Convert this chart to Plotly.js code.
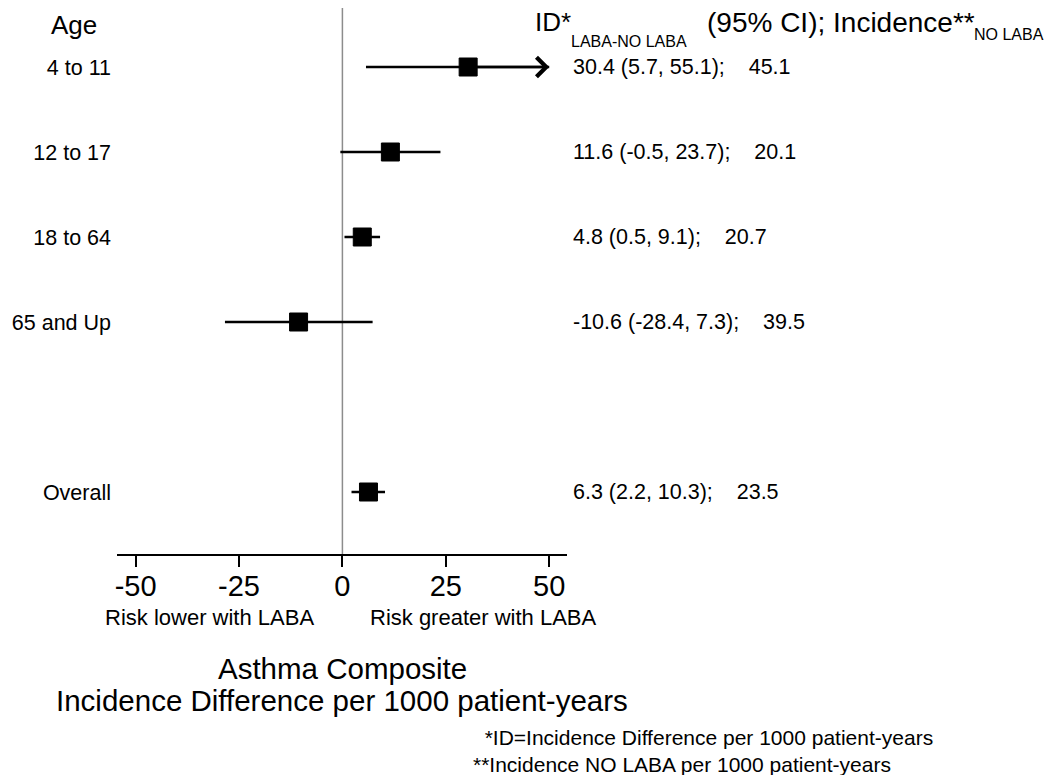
<!DOCTYPE html>
<html>
<head>
<meta charset="utf-8">
<script src="https://cdn.plot.ly/plotly-3.0.1.min.js"></script>
<style>
  html, body { margin: 0; padding: 0; background: #ffffff; }
  #chart { width: 1044px; height: 775px; }
</style>
</head>
<body>
<div id="chart"></div>
<script>
// ---- Data ----
const ageGroups = ['4 to 11', '12 to 17', '18 to 64', '65 and Up', 'Overall'];
const estimate = [30.4, 11.6, 4.8, -10.6, 6.3];
const ciLower = [5.7, -0.5, 0.5, -28.4, 2.2];
const ciUpper = [55.1, 23.7, 9.1, 7.3, 10.3];
const incidenceNoLaba = [45.1, 20.1, 20.7, 39.5, 23.5];
const xTickVals = [-50, -25, 0, 25, 50];
const rowOrder = ['4 to 11', '12 to 17', '18 to 64', '65 and Up', ' ', 'Overall'];

// ---- Layout constants ----
const W = 1044, H = 775;
const M = { l: 117, r: 477, t: 8, b: 221 };
const plotW = W - M.l - M.r, plotH = H - M.t - M.b;
const clipMax = 50;
const FONT = 'Liberation Sans, Arial, Helvetica, sans-serif';
const px2paperX = px => (px - M.l) / plotW;
const py2paperY = py => (H - M.b - py) / plotH;

// CI lines (clipped at display limit)
const ciX = [], ciY = [];
ageGroups.forEach((g, i) => {
  ciX.push(ciLower[i], Math.min(ciUpper[i], clipMax), null);
  ciY.push(g, g, null);
});

const traces = [
  {
    type: 'scatter', mode: 'lines', x: ciX, y: ciY,
    line: { color: '#000000', width: 2.5 }, hoverinfo: 'skip', showlegend: false
  },
  {
    type: 'scatter', mode: 'markers', x: estimate, y: ageGroups,
    marker: { symbol: 'square', size: 18, color: '#000000', line: { color: '#000000', width: 1 } },
    showlegend: false
  }
];

const annotations = [];

// arrowheads for truncated intervals
ageGroups.forEach((g, i) => {
  if (ciUpper[i] > clipMax) {
    annotations.push({
      x: clipMax, y: rowOrder.indexOf(g), xref: 'x', yref: 'y',
      ax: estimate[i], ay: rowOrder.indexOf(g), axref: 'x', ayref: 'y',
      showarrow: true, arrowhead: 4, arrowsize: 1.5, arrowwidth: 2.5,
      arrowcolor: '#000000', standoff: 0, text: ''
    });
  }
});

// right column text
const nb = '\u00A0';
ageGroups.forEach((g, i) => {
  annotations.push({
    xref: 'paper', x: 1, xanchor: 'left', xshift: 4,
    yref: 'y', y: rowOrder.indexOf(g), yanchor: 'middle',
    text: estimate[i].toFixed(1) + ' (' + ciLower[i].toFixed(1) + ', ' + ciUpper[i].toFixed(1) + ');' + nb + nb + nb + nb + incidenceNoLaba[i].toFixed(1),
    showarrow: false, font: { family: FONT, size: 21.5, color: '#000000' }
  });
});

function txt(text, px, py, size, anchor) {
  annotations.push({
    xref: 'paper', yref: 'paper', x: px2paperX(px), y: py2paperY(py),
    xanchor: anchor || 'center', yanchor: 'middle', text: text, showarrow: false,
    align: anchor || 'center',
    font: { family: FONT, size: size, color: '#000000' }
  });
}

txt('Age', 74, 25, 26, 'center');
txt('ID*', 533, 22, 26, 'left');
txt('LABA-NO LABA', 569, 41, 16, 'left');
txt('(95% CI); Incidence**', 705, 22, 28, 'left');
txt('NO LABA', 972, 34, 16, 'left');
txt('Risk lower with LABA', 209, 617, 22, 'center');
txt('Risk greater with LABA', 483, 617, 22, 'center');
txt('Asthma Composite', 342, 668, 29.5, 'center');
txt('Incidence Difference per 1000 patient-years', 342, 700, 29.5, 'center');
txt(nb + nb + '*ID=Incidence Difference per 1000 patient-years<br>**Incidence NO LABA per 1000 patient-years', 471, 751, 21, 'left');

const layout = {
  width: W, height: H,
  margin: M,
  paper_bgcolor: '#ffffff', plot_bgcolor: '#ffffff',
  font: { family: FONT, color: '#000000' },
  showlegend: false,
  xaxis: {
    range: [-54.5, 54.3], tickvals: xTickVals, ticktext: xTickVals.map(String),
    showline: true, linecolor: '#000000', linewidth: 2,
    ticks: 'outside', ticklen: 11, tickwidth: 2, tickcolor: '#000000',
    ticklabelstandoff: -6,
    tickfont: { family: FONT, size: 29, color: '#000000' },
    showgrid: false, zeroline: false, fixedrange: true
  },
  yaxis: {
    type: 'category', categoryarray: rowOrder, categoryorder: 'array',
    range: [5 + 62 / 85, -59 / 85],
    showgrid: false, zeroline: false, showline: false, ticks: '',
    ticklabelstandoff: 5,
    tickfont: { family: FONT, size: 21.5, color: '#000000' },
    fixedrange: true
  },
  shapes: [
    { type: 'line', xref: 'x', yref: 'paper', x0: 0, x1: 0, y0: 0, y1: 1,
      line: { color: '#8c8c8c', width: 1.5 }, layer: 'below' }
  ],
  annotations: annotations
};

Plotly.newPlot('chart', traces, layout, { displayModeBar: false, staticPlot: true });
</script>
</body>
</html>
